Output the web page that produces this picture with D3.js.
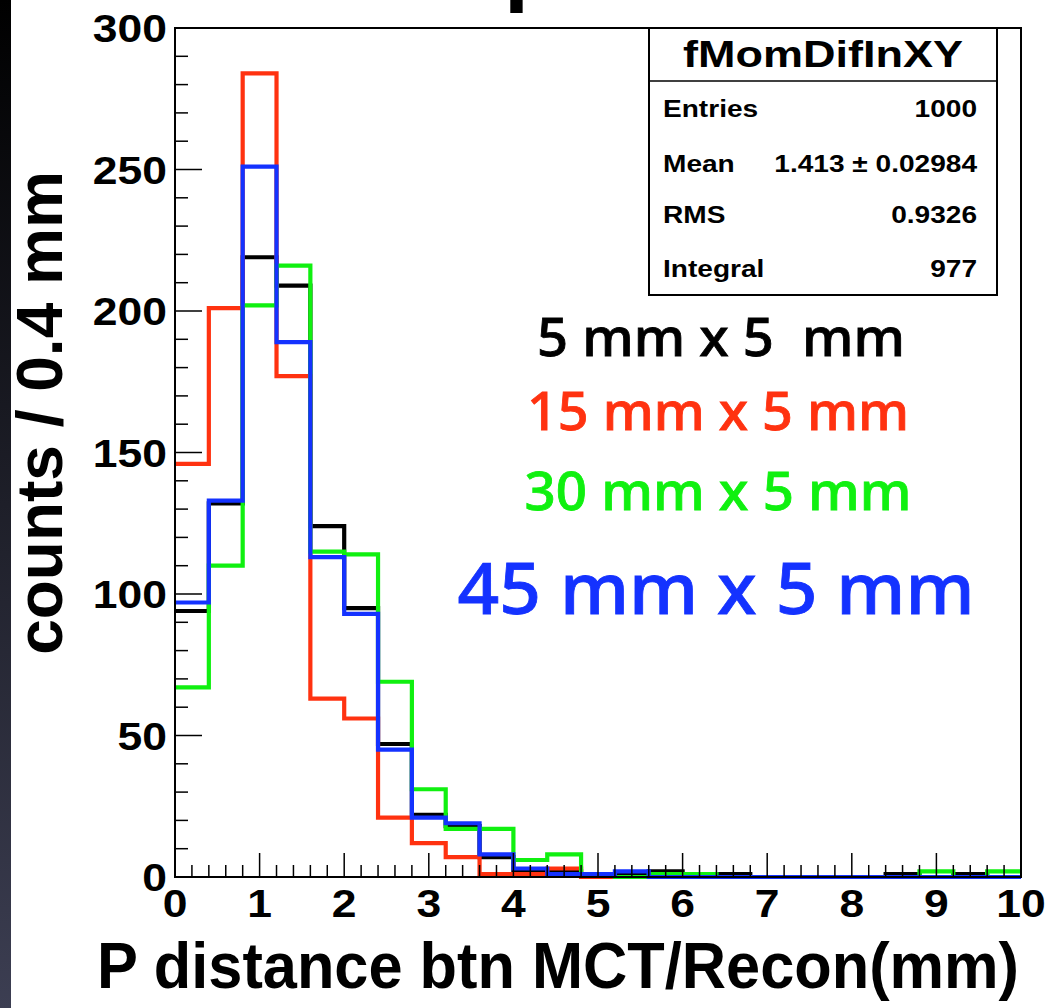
<!DOCTYPE html>
<html lang="en">
<head>
<meta charset="UTF-8">
<title>fMomDifInXY</title>
<style>
  body { margin: 0; background: #fff; }
  svg { display: block; }
  .tick-label { font-family: "Liberation Sans", Arial, sans-serif; font-weight: bold; font-size: 38px; fill: #000; }
  .axis-title { font-family: "Liberation Sans", Arial, sans-serif; font-weight: bold; fill: #000; }
  .stats { font-family: "Liberation Sans", Arial, sans-serif; font-weight: bold; fill: #000; }
  .size-label { font-family: "Noto Sans", "Open Sans", sans-serif; font-weight: 500; white-space: pre; }
</style>
</head>
<body>
<script src="https://d3js.org/d3.v7.min.js"></script>
<script>
// histogram bins: 25 bins of 0.4 mm from 0 to 10
const binWidth = 0.4;
const nBins = 25;

// counts per bin
const counts5x5 = [94, 132, 219, 209, 124, 95, 47, 22, 18, 7, 2, 2, 1, 1, 2, 1, 1, 0, 0, 0, 0, 1, 0, 1, 0];
const counts15x5 = [146, 201, 284, 177, 63, 56, 21, 12, 7, 1, 1, 3, 0, 0, 0, 0, 0, 0, 0, 0, 0, 0, 0, 0, 0];
const counts30x5 = [67, 110, 202, 216, 115, 114, 69, 31, 17, 17, 6, 8, 1, 0, 1, 1, 0, 0, 0, 0, 0, 0, 2, 0, 2];
const counts45x5 = [97, 133, 251, 189, 113, 93, 45, 21, 19, 8, 3, 1, 1, 2, 0, 0, 0, 0, 0, 0, 0, 0, 0, 0, 0];

const seriesNames = ["5 mm x 5  mm", "15 mm x 5 mm", "30 mm x 5 mm", "45 mm x 5 mm"];
const seriesColors = ["#000000", "#ff3210", "#10f010", "#1432ff"];

const xTicks = [0, 1, 2, 3, 4, 5, 6, 7, 8, 9, 10];
const yTicks = [0, 50, 100, 150, 200, 250, 300];

const statNames = ["Entries", "Mean", "RMS", "Integral"];
const statValues = ["1000", "1.413 \u00b1 0.02984", "0.9326", "977"];

const w = 1046, h = 1008;
const plotLeft = 175, plotRight = 1021, plotTop = 28, plotBottom = 877;
const wide = 1.17; // the Helvetica text in the picture is drawn a little wider

const svg = d3.select("body").append("svg")
  .attr("width", w)
  .attr("height", h);

// dark slide edge on the left
const grad = svg.append("defs").append("linearGradient")
  .attr("id", "edge").attr("x1", 0).attr("y1", 0).attr("x2", 0).attr("y2", 1);
grad.append("stop").attr("offset", "0%").attr("stop-color", "#000000");
grad.append("stop").attr("offset", "100%").attr("stop-color", "#3c3e52");
svg.append("rect").attr("x", 0).attr("y", 0).attr("width", 11).attr("height", h).attr("fill", "url(#edge)");

// cut-off title letter
svg.append("text")
  .attr("class", "axis-title")
  .attr("x", 504).attr("y", -6)
  .attr("font-size", 90)
  .text("p");

const xScale = d3.scaleLinear().domain([0, 10]).range([plotLeft, plotRight]);
const yScale = d3.scaleLinear().domain([0, 300]).range([plotBottom, plotTop]);

// histograms, black first, blue on top
const allCounts = [counts5x5, counts15x5, counts30x5, counts45x5];
const stepLine = d3.line()
  .x(d => xScale(d[0]))
  .y(d => yScale(d[1]))
  .curve(d3.curveStepAfter);

allCounts.forEach((c, i) => {
  const pts = c.map((v, b) => [b * binWidth, v]);
  pts.push([nBins * binWidth, c[c.length - 1]]);
  svg.append("path")
    .attr("d", stepLine(pts))
    .attr("fill", "none")
    .attr("stroke", seriesColors[i])
    .attr("stroke-width", 4.2);
});

// frame
svg.append("rect")
  .attr("x", plotLeft).attr("y", plotTop)
  .attr("width", plotRight - plotLeft).attr("height", plotBottom - plotTop)
  .attr("fill", "none").attr("stroke", "#000").attr("stroke-width", 2);

// x ticks: major at integers, minor every 0.2
const xAxis = svg.append("g").attr("id", "x-axis");
d3.range(0, 51).forEach(k => {
  const v = k * 0.2;
  const major = k % 5 === 0;
  xAxis.append("line")
    .attr("x1", xScale(v)).attr("x2", xScale(v))
    .attr("y1", plotBottom).attr("y2", plotBottom - (major ? 24 : 12))
    .attr("stroke", "#000").attr("stroke-width", 1.5);
});
xAxis.selectAll("text.tick-label")
  .data(xTicks)
  .enter()
  .append("text")
  .attr("class", "tick-label")
  .attr("transform", d => "translate(" + xScale(d) + "," + (plotBottom + 40) + ") scale(" + wide + ",1)")
  .attr("text-anchor", "middle")
  .text(d => d);

// y ticks: major every 50, minor every 10
const yAxis = svg.append("g").attr("id", "y-axis");
d3.range(0, 31).forEach(k => {
  const v = k * 10;
  const major = k % 5 === 0;
  yAxis.append("line")
    .attr("x1", plotLeft).attr("x2", plotLeft + (major ? 27 : 13))
    .attr("y1", yScale(v)).attr("y2", yScale(v))
    .attr("stroke", "#000").attr("stroke-width", 1.5);
});
yAxis.selectAll("text.tick-label")
  .data(yTicks)
  .enter()
  .append("text")
  .attr("class", "tick-label")
  .attr("transform", d => "translate(167," + (yScale(d) + 14) + ") scale(" + wide + ",1)")
  .attr("text-anchor", "end")
  .text(d => d);

// axis titles
svg.append("text")
  .attr("class", "axis-title")
  .attr("font-size", 65)
  .attr("text-anchor", "middle")
  .attr("x", 558).attr("y", 988)
  .attr("textLength", 922)
  .attr("lengthAdjust", "spacingAndGlyphs")
  .text("P distance btn MCT/Recon(mm)");

svg.append("text")
  .attr("class", "axis-title")
  .attr("font-size", 64)
  .attr("text-anchor", "middle")
  .attr("transform", "translate(62,413) rotate(-90)")
  .text("counts / 0.4 mm");

// stats box
const bx = 649, by = 28, bw = 348, bh = 267;
svg.append("rect")
  .attr("x", bx).attr("y", by).attr("width", bw).attr("height", bh)
  .attr("fill", "#fff").attr("stroke", "#000").attr("stroke-width", 2);
svg.append("line")
  .attr("x1", bx).attr("x2", bx + bw).attr("y1", 81).attr("y2", 81)
  .attr("stroke", "#000").attr("stroke-width", 1.5);
svg.append("text")
  .attr("class", "stats")
  .attr("font-size", 36)
  .attr("text-anchor", "middle")
  .attr("transform", "translate(" + (bx + bw / 2) + ",67) scale(1.25,1)")
  .text("fMomDifInXY");

const statY = [117, 172, 223, 277];
statNames.forEach((s, i) => {
  svg.append("text").attr("class", "stats").attr("font-size", 24)
    .attr("transform", "translate(663," + statY[i] + ") scale(" + wide + ",1)")
    .text(s);
  svg.append("text").attr("class", "stats").attr("font-size", 24)
    .attr("text-anchor", "end")
    .attr("transform", "translate(977," + statY[i] + ") scale(" + wide + ",1)")
    .text(statValues[i]);
});

// size labels
const labelX = [721, 718, 718, 716];
const labelY = [356, 430, 510, 614];
const labelSize = [53, 53, 53, 71];
const labelLen = [368, 382, 387, 517];
seriesNames.forEach((s, i) => {
  svg.append("text")
    .attr("class", "size-label")
    .attr("text-anchor", "middle")
    .attr("x", labelX[i]).attr("y", labelY[i])
    .attr("font-size", labelSize[i])
    .attr("textLength", labelLen[i])
    .attr("lengthAdjust", "spacingAndGlyphs")
    .attr("fill", seriesColors[i])
    .attr("stroke", seriesColors[i])
    .attr("stroke-width", 0.8)
    .text(s);
});
</script>
</body>
</html>
